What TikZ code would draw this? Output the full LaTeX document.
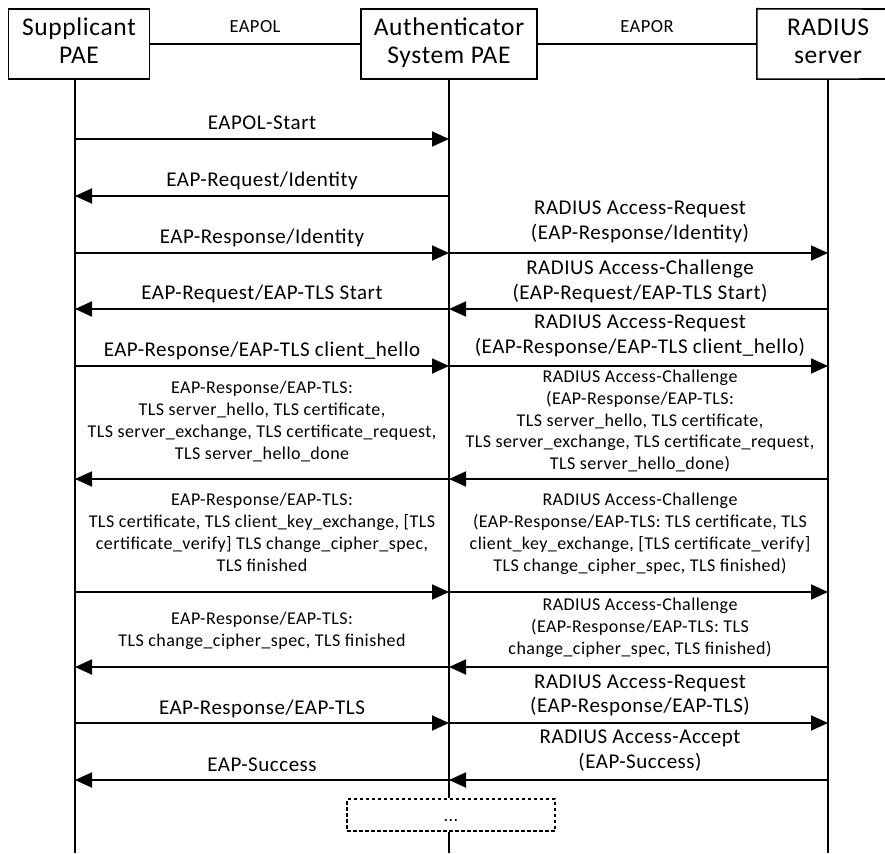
\documentclass[tikz,border=0pt]{standalone}
\usepackage{fontspec}
\setmainfont[LetterSpace=2.5]{Carlito}
\usetikzlibrary{arrows.meta}
\newcommand\myhf{\fontsize{25.5}{28.5}\selectfont}
\newcommand\mymf{\fontsize{21}{24.5}\selectfont}
\newcommand\mysf{\fontsize{18}{22}\selectfont}
\newcommand\mylf{\fontsize{18.5}{22}\selectfont}
\begin{document}
\begin{tikzpicture}[x=1pt,y=-1pt,
  etext/.style={minimum height=70pt, inner sep=0pt, align=center, font=\myhf},
  entity/.style={etext, draw, line width=1.6pt},
  boxline/.style={line width=1.6pt},
  life/.style={line width=1.4pt},
  msg/.style={line width=1.8pt, -{Triangle[length=17pt,width=15pt]}},
  mtext/.style={font=\mymf, align=center, inner sep=0pt, anchor=north, execute at begin node=\strut},
  stext/.style={font=\mysf, align=center, inner sep=0pt, anchor=north, execute at begin node=\strut},
  ltext/.style={font=\mylf, inner sep=0pt, anchor=base}]
\useasboundingbox (0,0) rectangle (885,853);

% entities
\node[entity, minimum width=141pt] (sup) at (79,44) {\strut Supplicant\\PAE\strut};
\node[entity, minimum width=176pt] (auth) at (449,44) {\strut Authenticator\\System PAE\strut};
\node[etext, minimum width=142pt] (rad) at (828,44) {\strut RADIUS\\server\strut};
\coordinate (rtr) at (895,9);
\coordinate (rbr) at (895,79);
\draw[boxline] (rtr) -- (rad.north west) -- (rad.south west) -- (rbr);

% links between entities
\draw[boxline] (sup.east) -- (auth.west);
\draw[boxline] (auth.east) -- (rad.west);
\node[ltext] (eapol) at (255,33) {EAPOL};
\node[ltext] (eapor) at (647,33) {EAPOR};

% continuation box
\node[draw, dashed, dash pattern=on 3.5pt off 2.5pt, line width=1.4pt, minimum width=208pt,
      minimum height=32pt, inner sep=0pt, font=\mysf, text height=15pt, text depth=3pt] (dots) at (451,815) {...};

% lifelines
\coordinate (Stop) at (75,79);
\coordinate (Sbot) at (75,853);
\coordinate (Abot) at (449,853);
\coordinate (Rbot) at (828,853);
\draw[life] (Stop) -- (Sbot);
\draw[life] (auth.south) -- (auth.south |- dots.north);
\draw[life] (auth.south |- dots.south) -- (Abot);
\draw[life] (rad.south) -- (Rbot);

% message anchor points
\foreach \n/\y in {1/139,2/196,3/253,4/309,5/366,6/479,7/592,8/667,9/723,10/780} {
  \coordinate (S\n) at (75,\y);
  \coordinate (A\n) at (449,\y);
  \coordinate (R\n) at (828,\y);
}

% messages
\draw[msg] (S1) -- (A1);
\draw[msg] (A2) -- (S2);
\draw[msg] (S3) -- (A3);  \draw[msg] (A3) -- (R3);
\draw[msg] (A4) -- (S4);  \draw[msg] (R4) -- (A4);
\draw[msg] (S5) -- (A5);  \draw[msg] (A5) -- (R5);
\draw[msg] (A6) -- (S6);  \draw[msg] (R6) -- (A6);
\draw[msg] (S7) -- (A7);  \draw[msg] (A7) -- (R7);
\draw[msg] (A8) -- (S8);  \draw[msg] (R8) -- (A8);
\draw[msg] (S9) -- (A9);  \draw[msg] (A9) -- (R9);
\draw[msg] (A10) -- (S10); \draw[msg] (R10) -- (A10);

% labels, left side
\node[mtext] (l1) at (262,111.85) {EAPOL-Start};
\node[mtext] (l2) at (262,168.85) {EAP-Request/Identity};
\node[mtext] (l3) at (262,225.85) {EAP-Response/Identity};
\node[mtext] (l4) at (262,281.85) {EAP-Request/EAP-TLS Start};
\node[mtext] (l5) at (262,338.85) {EAP-Response/EAP-TLS client\_hello};
\node[stext] (l6) at (262,380.6) {EAP-Response/EAP-TLS:\\TLS server\_hello, TLS certificate,\\TLS server\_exchange, TLS certificate\_request,\\TLS server\_hello\_done};
\node[stext] (l7) at (262,492.6) {EAP-Response/EAP-TLS:\\TLS certificate, TLS client\_key\_exchange, [TLS\\certificate\_verify] TLS change\_cipher\_spec,\\TLS finished};
\node[stext] (l8) at (262,611.6) {EAP-Response/EAP-TLS:\\TLS change\_cipher\_spec, TLS finished};
\node[mtext] (l9) at (262,696.85) {EAP-Response/EAP-TLS};
\node[mtext] (l10) at (262,753.85) {EAP-Success};

% labels, right side
\node[mtext] (r3) at (640,200.85) {RADIUS Access-Request\\(EAP-Response/Identity)};
\node[mtext] (r4) at (640,259.85) {RADIUS Access-Challenge\\(EAP-Request/EAP-TLS Start)};
\node[mtext] (r5) at (640,314.85) {RADIUS Access-Request\\(EAP-Response/EAP-TLS client\_hello)};
\node[stext, font=\fontsize{18}{21.75}\selectfont] (r6) at (640,369.8) {RADIUS Access-Challenge\\(EAP-Response/EAP-TLS:\\TLS server\_hello, TLS certificate,\\TLS server\_exchange, TLS certificate\_request,\\TLS server\_hello\_done)};
\node[stext] (r7) at (640,492.6) {RADIUS Access-Challenge\\(EAP-Response/EAP-TLS: TLS certificate, TLS\\client\_key\_exchange, [TLS certificate\_verify]\\TLS change\_cipher\_spec, TLS finished)};
\node[stext] (r8) at (640,597.6) {RADIUS Access-Challenge\\(EAP-Response/EAP-TLS: TLS\\change\_cipher\_spec, TLS finished)};
\node[mtext, font=\fontsize{21}{24}\selectfont] (r9) at (640,674.2) {RADIUS Access-Request\\(EAP-Response/EAP-TLS)};
\node[mtext] (r10) at (640,729.85) {RADIUS Access-Accept\\(EAP-Success)};
\end{tikzpicture}
\end{document}
